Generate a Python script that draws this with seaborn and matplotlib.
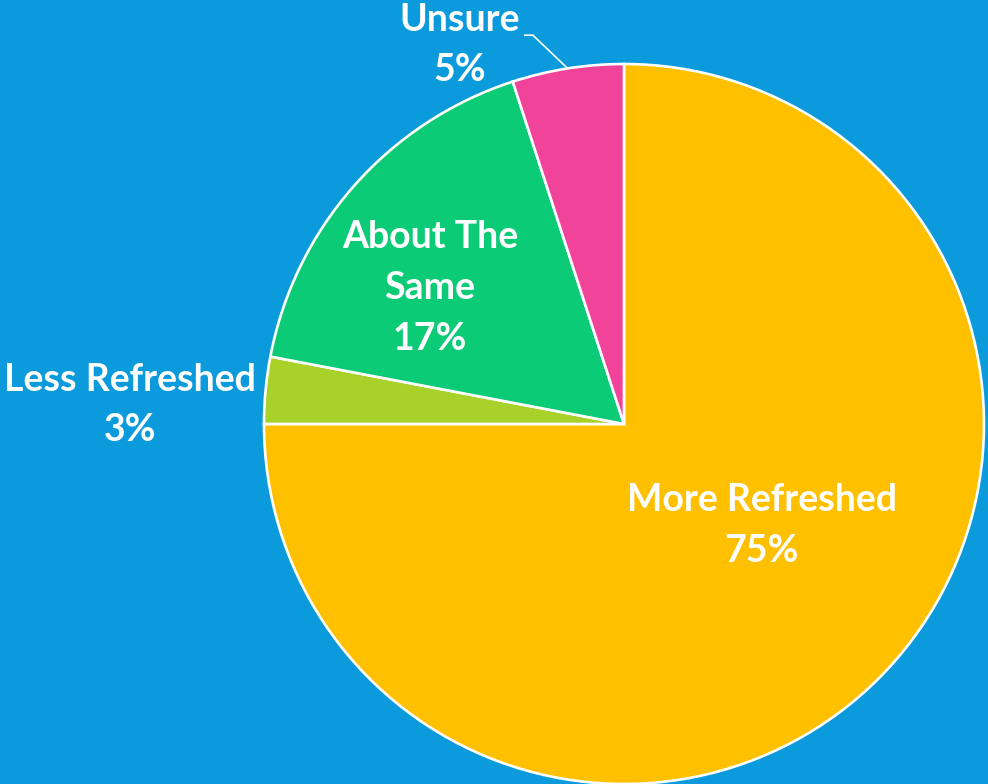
import numpy as np
import matplotlib
matplotlib.use("Agg")
import matplotlib.pyplot as plt
import seaborn as sns

# Survey responses
categories = ["More Refreshed", "Less Refreshed", "About The Same", "Unsure"]
shares = [75, 3, 17, 5]
slice_colors = ["#FFC000", "#A8D12A", "#0CCB76", "#F2439A"]
background = "#0B9ADC"

sns.set_theme(style="white")
plt.rcParams["font.family"] = ["Lato", "DejaVu Sans"]

fig = plt.figure(figsize=(9.88, 7.84), dpi=100, facecolor=background)
ax = fig.add_axes([0, 0, 1, 1])
ax.set_facecolor(background)

wedges, _ = ax.pie(
    shares,
    colors=sns.color_palette(slice_colors),
    startangle=90,
    counterclock=False,
    radius=1.0,
    wedgeprops=dict(edgecolor="white", linewidth=1.9),
)

ax.set_xlim(-1.7333, 1.0111)
ax.set_ylim(-1.0, 1.1778)
ax.set_aspect("equal")
ax.axis("off")

# Label anchor points (data units, pie radius = 1)
label_pos = {
    "More Refreshed": (0.383, -0.281),
    "Less Refreshed": (-1.372, 0.053),
    "About The Same": (-0.539, 0.378),
    "Unsure": (-0.456, 1.053),
}
label_text = {
    "More Refreshed": "More Refreshed\n{}%",
    "Less Refreshed": "Less Refreshed\n{}%",
    "About The Same": "About The\nSame\n{}%",
    "Unsure": "Unsure\n{}%",
}
for cat, val in zip(categories, shares):
    x, y = label_pos[cat]
    ax.text(x, y, label_text[cat].format(val), ha="center", va="center",
            color="white", fontsize=27, fontweight="bold", linespacing=1.6)

# Leader line from the "Unsure" label to its slice
w = wedges[categories.index("Unsure")]
mid = np.deg2rad((w.theta1 + w.theta2) / 2)
ex, ey = np.cos(mid), np.sin(mid)
ax.plot([-0.278, -0.253, ex], [1.08, 1.08, ey], color="white", lw=1.2,
        solid_capstyle="butt")

fig.savefig("out.png", dpi=100, facecolor=background)
